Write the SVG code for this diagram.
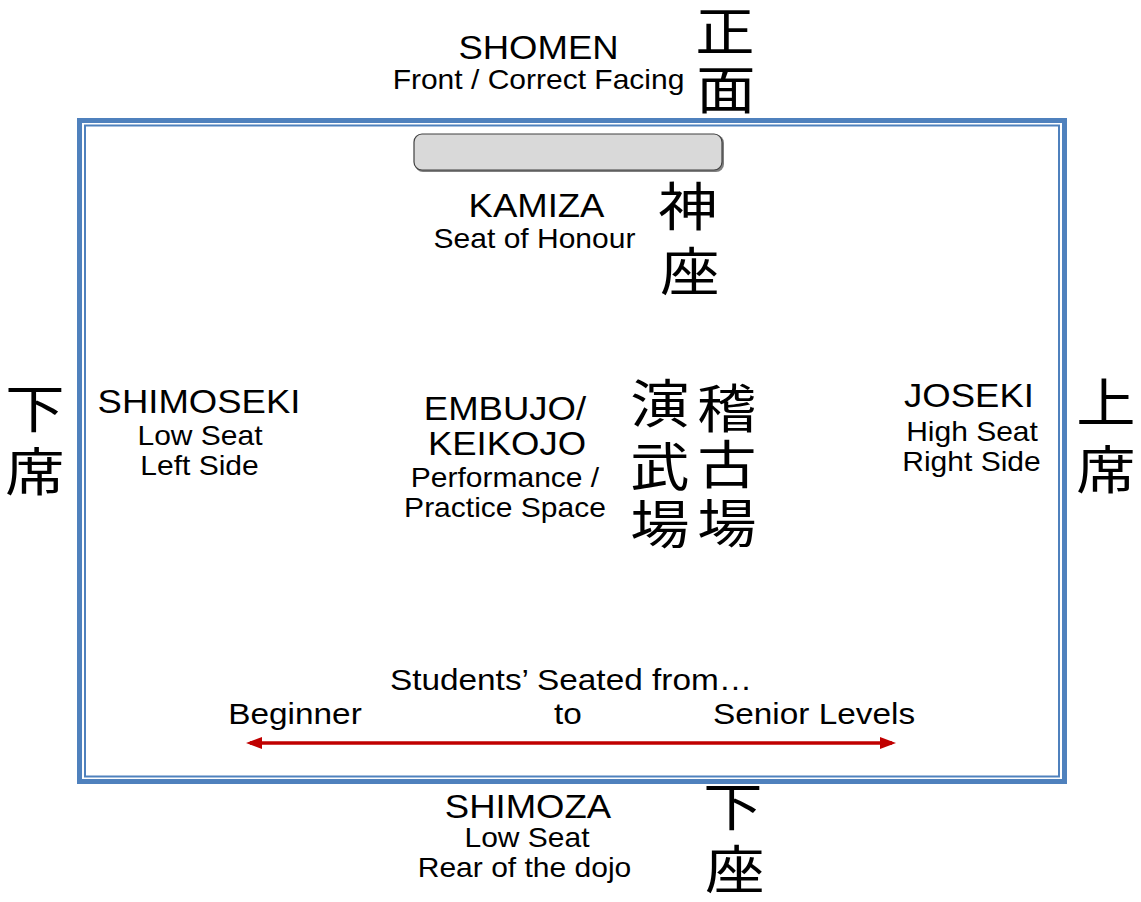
<svg xmlns="http://www.w3.org/2000/svg" width="1141" height="902" viewBox="0 0 1141 902">
<defs>
<style>
.t{font-family:"Liberation Sans",Arial,sans-serif;fill:#000;text-anchor:middle}
.h{font-size:32.6px}
.s{font-size:26.8px}
.b{font-size:29.8px}
.k{font-family:"Noto Sans CJK JP","Noto Sans CJK SC",serif;font-size:52px;fill:#000;text-anchor:middle}
</style>
<marker id="ah" viewBox="0 0 16 12" markerWidth="16" markerHeight="12" refX="12" refY="6" orient="auto-start-reverse" markerUnits="userSpaceOnUse">
<path d="M0,0 L16,6 L0,12 z" fill="#c00000"/>
</marker>
</defs>
<rect width="1141" height="902" fill="#fff"/>
<g id="border">
<rect x="79.5" y="120.5" width="985" height="661" fill="none" stroke="#4f81bd" stroke-width="5"/>
<rect x="85" y="125.5" width="974" height="651" fill="none" stroke="#4f81bd" stroke-width="2"/>
</g>
<g id="shomen">
<text class="t h" transform="translate(538.5,59) scale(1.12,1)">SHOMEN</text>
<text class="t s" transform="translate(538.5,89) scale(1.12,1)">Front / Correct Facing</text>
<text class="k" transform="translate(725,51) scale(1.14,1)">正</text>
<text class="k" transform="translate(726,109) scale(1.14,1)">面</text>
</g>
<g id="kamiza">
<rect x="415" y="135" width="309" height="37" rx="8" fill="#7f7f7f"/>
<rect x="414" y="134" width="308" height="36" rx="8" fill="#d9d9d9" stroke="#404040" stroke-width="1.2"/>
<text class="t h" transform="translate(536.5,217) scale(1.12,1)">KAMIZA</text>
<text class="t s" transform="translate(534.5,248) scale(1.12,1)">Seat of Honour</text>
<text class="k" transform="translate(688,226) scale(1.14,1)">神</text>
<text class="k" transform="translate(690,291) scale(1.14,1)">座</text>
</g>
<g id="shimoseki">
<text class="t h" transform="translate(199,413) scale(1.12,1)">SHIMOSEKI</text>
<text class="t s" transform="translate(200,445) scale(1.12,1)">Low Seat</text>
<text class="t s" transform="translate(199.5,475) scale(1.12,1)">Left Side</text>
<text class="k" transform="translate(35,428) scale(1.14,1)">下</text>
<text class="k" transform="translate(35,491) scale(1.14,1)">席</text>
</g>
<g id="joseki">
<text class="t h" transform="translate(969,407) scale(1.12,1)">JOSEKI</text>
<text class="t s" transform="translate(972,441) scale(1.12,1)">High Seat</text>
<text class="t s" transform="translate(971.5,471) scale(1.12,1)">Right Side</text>
<text class="k" transform="translate(1106,422) scale(1.14,1)">上</text>
<text class="k" transform="translate(1106,489) scale(1.14,1)">席</text>
</g>
<g id="embujo">
<text class="t h" transform="translate(505,420) scale(1.12,1)">EMBUJO/</text>
<text class="t h" transform="translate(507,455) scale(1.12,1)">KEIKOJO</text>
<text class="t s" transform="translate(505,487) scale(1.12,1)">Performance /</text>
<text class="t s" transform="translate(505,517) scale(1.12,1)">Practice Space</text>
<text class="k" transform="translate(660,423) scale(1.14,1)">演</text>
<text class="k" transform="translate(660,486) scale(1.14,1)">武</text>
<text class="k" transform="translate(660,544) scale(1.14,1)">場</text>
<text class="k" transform="translate(727,428) scale(1.14,1)">稽</text>
<text class="k" transform="translate(727,484) scale(1.14,1)">古</text>
<text class="k" transform="translate(727,543) scale(1.14,1)">場</text>
</g>
<g id="students">
<text class="t b" transform="translate(571,690) scale(1.12,1)">Students’ Seated from…</text>
<text class="t b" transform="translate(295,724) scale(1.12,1)">Beginner</text>
<text class="t b" transform="translate(568,724) scale(1.12,1)">to</text>
<text class="t b" transform="translate(814,724) scale(1.12,1)">Senior Levels</text>
</g>
<g id="connectors">
<line x1="250" y1="743" x2="892" y2="743" stroke="#c00000" stroke-width="3.5" marker-start="url(#ah)" marker-end="url(#ah)"/>
</g>
<g id="shimoza">
<text class="t h" transform="translate(528,818) scale(1.12,1)">SHIMOZA</text>
<text class="t s" transform="translate(527,847) scale(1.12,1)">Low Seat</text>
<text class="t s" transform="translate(524.5,877) scale(1.12,1)">Rear of the dojo</text>
<text class="k" transform="translate(733,826) scale(1.14,1)">下</text>
<text class="k" transform="translate(735,889) scale(1.14,1)">座</text>
</g>
</svg>
